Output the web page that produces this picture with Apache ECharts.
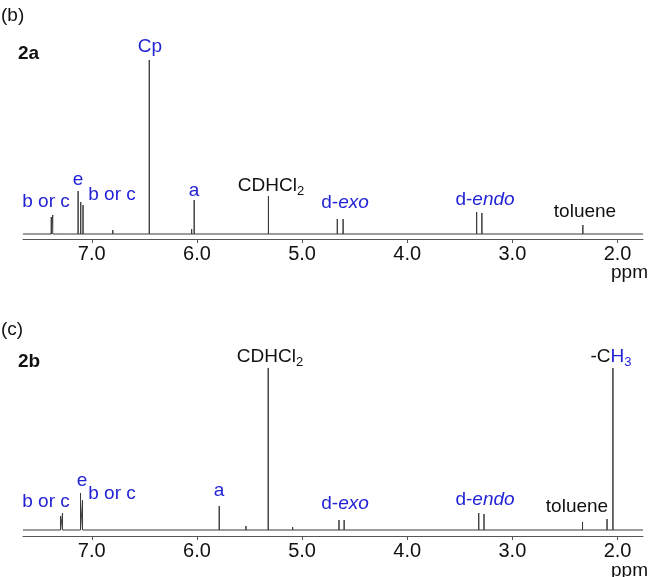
<!DOCTYPE html>
<html>
<head>
<meta charset="utf-8">
<script src="https://cdn.jsdelivr.net/npm/echarts@6/dist/echarts.min.js"></script>
<style>
  html, body { margin: 0; padding: 0; background: #fff; }
  #chart { width: 649px; height: 577px; }
</style>
</head>
<body>
<div id="chart"></div>
<script>
// peak positions (ppm) and heights
var ppm2a = [7.385, 7.371, 7.20, 7.185, 7.130, 7.105, 7.083, 6.80, 6.453, 6.05, 6.026, 5.320, 4.665, 4.610, 3.45, 3.340, 3.290, 2.330];
var int2a = [17, 19, 2, 2, 43, 32, 29, 4, 174, 5, 34, 38, 15, 15, 2, 22, 21, 9];

var ppm2b = [7.297, 7.278, 7.107, 7.088, 5.788, 5.534, 5.322, 5.09, 4.649, 4.600, 3.320, 3.270, 2.333, 2.100, 2.044];
var int2b = [14, 17, 37, 30, 24, 4, 162, 3, 10, 10, 17, 16, 8, 11, 162];

var tickValues = [2, 3, 4, 5, 6, 7];
var ppmMin = 1.758, ppmMax = 7.654;

var blue = '#2323d6';
var dark = '#111';
var font = '"Liberation Sans", Arial, sans-serif';
var fs = 19;

function spectrum(ppm, ints) {
  var pts = [[ppmMax, 0]];
  ppm.forEach(function (p, i) {
    pts.push([p, 0], [p, ints[i]], [p, 0]);
  });
  pts.push([ppmMin, 0]);
  return pts;
}

function xAxisFor(idx) {
  return {
    type: 'value', gridIndex: idx, inverse: true,
    min: ppmMin, max: ppmMax,
    axisLine: { show: true, onZero: false, lineStyle: { color: '#555', width: 1 } },
    axisTick: { show: true, customValues: tickValues, length: 4, lineStyle: { color: '#555' } },
    axisLabel: {
      customValues: tickValues, color: dark, fontSize: 20, fontFamily: font, margin: 5,
      formatter: function (v) { return v.toFixed(1); }
    },
    splitLine: { show: false }
  };
}

function label(text, x, y, color, extra) {
  var st = {
    text: text, x: x, y: y, fill: color, fontSize: fs, fontFamily: font,
    align: 'center', textAlign: 'center', verticalAlign: 'middle', textVerticalAlign: 'middle'
  };
  if (extra) for (var k in extra) st[k] = extra[k];
  return { type: 'text', silent: true, style: st };
}

var richSub = {
  n: { fontSize: fs, fontFamily: font, lineHeight: 24, fill: dark, color: dark },
  s: { fontSize: 13, fontFamily: font, lineHeight: 12, verticalAlign: 'bottom', fill: dark, color: dark },
  bn: { fontSize: fs, fontFamily: font, lineHeight: 24, fill: blue, color: blue },
  bs: { fontSize: 13, fontFamily: font, lineHeight: 12, verticalAlign: 'bottom', fill: blue, color: blue },
  bi: { fontSize: fs, fontFamily: font, fontStyle: 'italic', lineHeight: 24, fill: blue, color: blue }
};

var chart = echarts.init(document.getElementById('chart'));
chart.setOption({
  animation: false,
  backgroundColor: '#fff',
  grid: [
    { left: 23, right: 6, top: 54, height: 185 },
    { left: 23, right: 6, top: 351, height: 185 }
  ],
  xAxis: [xAxisFor(0), xAxisFor(1)],
  yAxis: [
    { type: 'value', gridIndex: 0, min: -5, max: 180, show: false },
    { type: 'value', gridIndex: 1, min: -6, max: 179, show: false }
  ],
  series: [
    {
      type: 'line', xAxisIndex: 0, yAxisIndex: 0, data: spectrum(ppm2a, int2a),
      showSymbol: false, lineStyle: { color: '#3a3a3a', width: 1 }
    },
    {
      type: 'line', xAxisIndex: 1, yAxisIndex: 1, data: spectrum(ppm2b, int2b),
      showSymbol: false, lineStyle: { color: '#3a3a3a', width: 1 }
    }
  ],
  graphic: [
    // panel (b)
    label('(b)', 1, 16, dark, { align: 'left', textAlign: 'left' }),
    label('2a', 18, 54, dark, { align: 'left', textAlign: 'left', fontWeight: 'bold' }),
    label('Cp', 150, 47, blue),
    label('b or c', 46, 202, blue),
    label('e', 78, 180, blue),
    label('b or c', 112, 195, blue),
    label('a', 194, 191, blue),
    label('{n|CDHCl}{s|2}', 271, 186, dark, { rich: richSub }),
    label('{bn|d-}{bi|exo}', 345, 203, blue, { rich: richSub }),
    label('{bn|d-}{bi|endo}', 485, 200, blue, { rich: richSub }),
    label('toluene', 585, 212, dark),
    label('ppm', 648, 273, dark, { align: 'right', textAlign: 'right' }),
    // panel (c)
    label('(c)', 1, 330, dark, { align: 'left', textAlign: 'left' }),
    label('2b', 18, 362, dark, { align: 'left', textAlign: 'left', fontWeight: 'bold' }),
    label('{n|CDHCl}{s|2}', 270, 357, dark, { rich: richSub }),
    label('b or c', 46, 502, blue),
    label('e', 82, 481, blue),
    label('b or c', 112, 494, blue),
    label('a', 219, 491, blue),
    label('{bn|d-}{bi|exo}', 345, 504, blue, { rich: richSub }),
    label('{bn|d-}{bi|endo}', 485, 500, blue, { rich: richSub }),
    label('toluene', 577, 507, dark),
    label('{n|-C}{bn|H}{bs|3}', 611, 357, dark, { rich: richSub }),
    label('ppm', 648, 571, dark, { align: 'right', textAlign: 'right' })
  ]
});
</script>
</body>
</html>
